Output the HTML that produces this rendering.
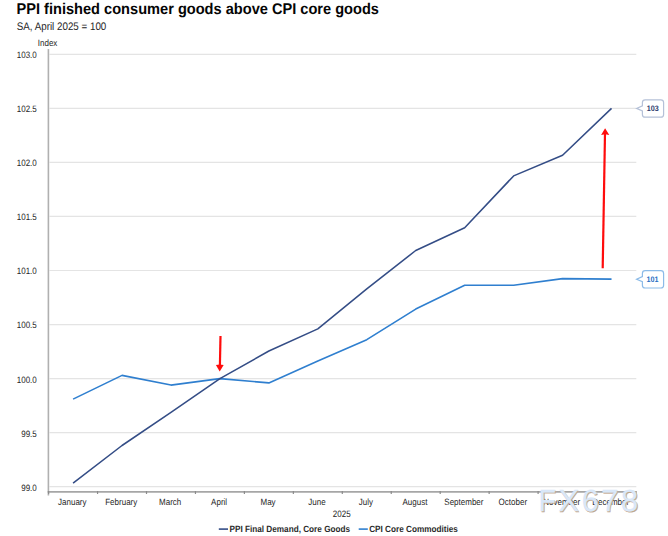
<!DOCTYPE html>
<html><head><meta charset="utf-8">
<style>
html,body{margin:0;padding:0;background:#fff;}
body{width:668px;height:536px;overflow:hidden;position:relative;font-family:"Liberation Sans",sans-serif;}
svg{position:absolute;left:0;top:0;text-rendering:geometricPrecision;}
</style></head><body>
<svg width="668" height="536" viewBox="0 0 668 536" font-family="Liberation Sans, sans-serif">
<text transform="translate(16.50,13.70) scale(1,1.065)" font-size="14.6" font-weight="bold" fill="#050505">PPI finished consumer goods above CPI core goods</text>

<text transform="translate(16.70,30.00) scale(1,1.12)" font-size="9.8" fill="#262626">SA, April 2025 = 100</text>

<text transform="translate(37.80,45.70) scale(1,1.15)" font-size="8" fill="#262626">Index</text>

<g stroke="#e4e4e4" stroke-width="1.2">
<line x1="49.5" y1="54.30" x2="636.3" y2="54.30" />
<line x1="49.5" y1="108.35" x2="636.3" y2="108.35" />
<line x1="49.5" y1="162.40" x2="636.3" y2="162.40" />
<line x1="49.5" y1="216.45" x2="636.3" y2="216.45" />
<line x1="49.5" y1="270.50" x2="636.3" y2="270.50" />
<line x1="49.5" y1="324.55" x2="636.3" y2="324.55" />
<line x1="49.5" y1="378.60" x2="636.3" y2="378.60" />
<line x1="49.5" y1="432.65" x2="636.3" y2="432.65" />
<line x1="49.5" y1="486.70" x2="636.3" y2="486.70" />
</g>
<g font-size="8" fill="#262626" text-anchor="end">
<text transform="translate(36.80,58.20) scale(1,1.15)" >103.0</text>
<text transform="translate(36.80,112.25) scale(1,1.15)" >102.5</text>
<text transform="translate(36.80,166.30) scale(1,1.15)" >102.0</text>
<text transform="translate(36.80,220.35) scale(1,1.15)" >101.5</text>
<text transform="translate(36.80,274.40) scale(1,1.15)" >101.0</text>
<text transform="translate(36.80,328.45) scale(1,1.15)" >100.5</text>
<text transform="translate(36.80,382.50) scale(1,1.15)" >100.0</text>
<text transform="translate(36.80,436.55) scale(1,1.15)" >99.5</text>
<text transform="translate(36.80,490.60) scale(1,1.15)" >99.0</text>
</g>
<g stroke-width="1.6">
<line x1="48.4" y1="49" x2="48.4" y2="495.5" stroke="#b0b0b0"/>
<line x1="47.6" y1="491.9" x2="636.3" y2="491.9" stroke="#a6a6a6"/>
</g>
<g stroke="#8c8c8c" stroke-width="1.2">
<line x1="48.60" y1="491" x2="48.60" y2="494" />
<line x1="97.55" y1="491" x2="97.55" y2="494" />
<line x1="146.50" y1="491" x2="146.50" y2="494" />
<line x1="195.45" y1="491" x2="195.45" y2="494" />
<line x1="244.40" y1="491" x2="244.40" y2="494" />
<line x1="293.35" y1="491" x2="293.35" y2="494" />
<line x1="342.30" y1="491" x2="342.30" y2="494" />
<line x1="391.25" y1="491" x2="391.25" y2="494" />
<line x1="440.20" y1="491" x2="440.20" y2="494" />
<line x1="489.15" y1="491" x2="489.15" y2="494" />
<line x1="538.10" y1="491" x2="538.10" y2="494" />
<line x1="587.05" y1="491" x2="587.05" y2="494" />
<line x1="636.00" y1="491" x2="636.00" y2="494" />
</g>
<g font-size="8" fill="#262626" text-anchor="middle">
<text transform="translate(72.28,505.20) scale(1,1.15)" >January</text>
<text transform="translate(121.23,505.20) scale(1,1.15)" >February</text>
<text transform="translate(170.17,505.20) scale(1,1.15)" >March</text>
<text transform="translate(219.12,505.20) scale(1,1.15)" >April</text>
<text transform="translate(268.07,505.20) scale(1,1.15)" >May</text>
<text transform="translate(317.03,505.20) scale(1,1.15)" >June</text>
<text transform="translate(365.98,505.20) scale(1,1.15)" >July</text>
<text transform="translate(414.93,505.20) scale(1,1.15)" >August</text>
<text transform="translate(463.88,505.20) scale(1,1.15)" >September</text>
<text transform="translate(512.83,505.20) scale(1,1.15)" >October</text>
<text transform="translate(561.78,505.20) scale(1,1.15)" >November</text>
<text transform="translate(610.73,505.20) scale(1,1.15)" >December</text>
<text transform="translate(341.70,517.40) scale(1,1.15)" >2025</text>
</g>
<polyline points="73.08,399.14 122.03,375.36 170.97,385.09 219.93,378.60 268.88,382.92 317.83,361.09 366.78,339.68 415.73,309.09 464.68,285.31 513.62,285.31 562.58,278.61 611.53,279.15" fill="none" stroke="#2f7fcf" stroke-width="1.6" stroke-linejoin="round"/>
<polyline points="73.08,483.13 122.03,445.51 170.97,412.33 219.93,378.60 268.88,351.03 317.83,328.87 366.78,288.88 415.73,250.50 464.68,227.80 513.62,175.91 562.58,155.27 611.53,108.35" fill="none" stroke="#344d86" stroke-width="1.55" stroke-linejoin="round"/>
<!-- red arrows -->
<g fill="#ff0c0c" stroke="none">
<path d="M219.4,336 L221.6,336 L221.0,366 L218.8,366 Z"/>
<path d="M215.9,365.0 L219.8,364.4 L223.7,365.0 L219.7,371.5 Z"/>
<path d="M601.6,268.3 L603.8,268.3 L606.1,133 L603.9,133 Z"/>
<path d="M601.1,134.9 L605.2,134.3 L609.3,134.9 L605.1,128.2 Z"/>
</g>
<!-- callouts -->
<path d="M645.2,99.8 H660.8 Q663.6,99.8 663.6,102.6 V114.4 Q663.6,117.2 660.8,117.2 H645.2 Q642.4,117.2 642.4,114.4 V110.9 L636.6,108.4 L642.4,105.8 V102.6 Q642.4,99.8 645.2,99.8 Z" fill="#fff" stroke="#b5c1d8" stroke-width="1.2"/>
<text transform="translate(652.80,111.30) scale(1,1.1)" font-size="7.2" font-weight="bold" fill="#2e3c6c" text-anchor="middle">103</text>

<path d="M645.2,270.6 H660.8 Q663.6,270.6 663.6,273.4 V285.2 Q663.6,288 660.8,288 H645.2 Q642.4,288 642.4,285.2 V281.7 L636.6,279.2 L642.4,276.6 V273.4 Q642.4,270.6 645.2,270.6 Z" fill="#fff" stroke="#8cbbe8" stroke-width="1.2"/>
<text transform="translate(652.60,282.00) scale(1,1.1)" font-size="7.2" font-weight="bold" fill="#2a6fc4" text-anchor="middle">101</text>

<!-- legend -->
<line x1="218.8" y1="529.1" x2="228" y2="529.1" stroke="#344d86" stroke-width="1.6"/>
<text transform="translate(229.50,532.10) scale(1,1.1)" font-size="8.2" font-weight="bold" fill="#2a2a2a">PPI Final Demand, Core Goods</text>

<line x1="358.7" y1="529.1" x2="367.8" y2="529.1" stroke="#2f7fcf" stroke-width="1.6"/>
<text transform="translate(369.20,532.10) scale(1,1.1)" font-size="8.2" font-weight="bold" fill="#2a2a2a">CPI Core Commodities</text>

<!-- watermark -->
<g font-size="30.6" fill="#c0a68c" stroke="#c0a68c" stroke-width="0.3" transform="translate(0.8,0.8)">
<text transform="translate(538.6,511.1) scale(0.93,1)">F</text>
<text x="558.5 581.7 601.3 621.1" y="511.1">X678</text>
</g>
<g font-size="30.6" fill="#d9e7f8" stroke="#d9e7f8" stroke-width="0.35">
<text transform="translate(538.6,511.1) scale(0.93,1)">F</text>
<text x="558.5 581.7 601.3 621.1" y="511.1">X678</text>
</g>
</svg>
</body></html>
